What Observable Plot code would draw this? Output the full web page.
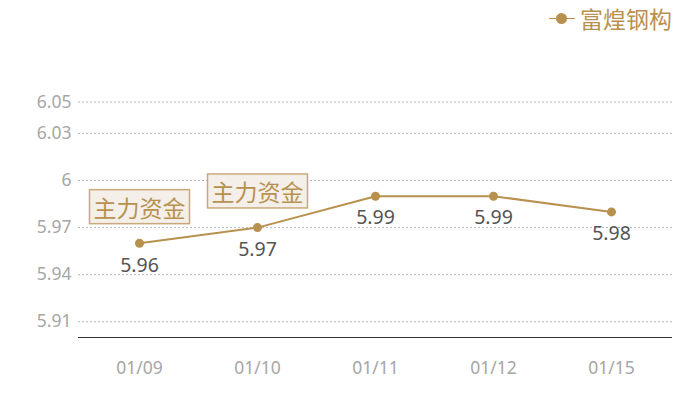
<!DOCTYPE html>
<html>
<head>
<meta charset="utf-8">
<script src="https://cdn.jsdelivr.net/npm/d3@7"></script>
<script src="https://cdn.jsdelivr.net/npm/@observablehq/plot@0.6"></script>
<style>
  html, body { margin: 0; padding: 0; background: #fff; }
  #wrap { position: relative; width: 700px; height: 400px; font-family: "Noto Sans CJK SC", "Noto Sans", sans-serif; }
  #legend { position: absolute; left: 549px; top: 4px; display: flex; align-items: center; height: 28px; }
  #legend .sym { position: relative; width: 26px; height: 28px; margin-right: 5px; }
  #legend .sym .ln { position: absolute; left: 0; top: 13.5px; width: 26px; height: 1.5px; background: #b8914f; }
  #legend .sym .dt { position: absolute; left: 7px; top: 8.5px; width: 11px; height: 11px; border-radius: 50%; background: #b8914f; }
  #legend .txt { font-size: 23px; color: #b8914f; line-height: 28px; }
</style>
</head>
<body>
<div id="wrap"></div>
<script>
const dates = ["01/09", "01/10", "01/11", "01/12", "01/15"];
const prices = [5.96, 5.97, 5.99, 5.99, 5.98];
const yTicks = [5.91, 5.94, 5.97, 6, 6.03, 6.05];
const annotationDates = ["01/09", "01/10"];
const annotationLabel = "主力资金";
const seriesName = "富煌钢构";

const gold = "#b8914f";
const numFont = '"Noto Sans", "Open Sans", sans-serif';
const data = dates.map((d, i) => ({date: d, price: prices[i]}));
const ann = data.filter(d => annotationDates.includes(d.date));

const chart = Plot.plot({
  width: 700,
  height: 400,
  marginLeft: 78,
  marginRight: 28,
  marginTop: 23,
  marginBottom: 63,
  style: {fontFamily: '"Noto Sans CJK SC", "Noto Sans", sans-serif', background: "#fff"},
  x: {type: "band", domain: dates, padding: 0, label: null},
  y: {domain: [5.9, 6.1], label: null},
  marks: [
    Plot.ruleY(yTicks, {stroke: "#b5b5b5", strokeDasharray: "2,2", strokeWidth: 1}),
    Plot.axisY(yTicks, {tickSize: 0, tickPadding: 7, fontSize: 17.5, fontFamily: numFont, color: "#a6a6a6", tickFormat: d => String(d), label: null}),
    Plot.axisX({tickSize: 0, tickPadding: 24, fontSize: 17.5, fontFamily: numFont, color: "#a6a6a6", label: null}),
    Plot.ruleY([5.9], {stroke: "#333", strokeWidth: 1.2}),
    Plot.line(data, {x: "date", y: "price", stroke: gold, strokeWidth: 2}),
    Plot.dot(data, {x: "date", y: "price", fill: gold, r: 4.5}),
    Plot.text(data, {x: "date", y: "price", text: d => String(d.price), dy: 22, fontSize: 19.5, fontFamily: numFont, fill: "#555"}),
    Plot.text(ann, {x: "date", y: "price", text: () => annotationLabel, dy: -34, fontSize: 23, fill: gold})
  ]
});

const wrap = document.getElementById("wrap");
wrap.appendChild(chart);

// boxes behind annotation texts
Array.from(chart.querySelectorAll("text"))
  .filter(t => t.textContent === annotationLabel)
  .forEach(t => {
    const b = t.getBBox();
    const r = document.createElementNS("http://www.w3.org/2000/svg", "rect");
    const cy = b.y + b.height / 2;
    r.setAttribute("x", b.x - 4);
    r.setAttribute("y", cy - 17);
    r.setAttribute("width", b.width + 8);
    r.setAttribute("height", 34);
    r.setAttribute("fill", "#f4efe9");
    r.setAttribute("stroke", "#c9a97c");
    r.setAttribute("stroke-width", 1.5);
    if (t.getAttribute("transform")) r.setAttribute("transform", t.getAttribute("transform"));
    t.parentNode.insertBefore(r, t);
  });

const legend = document.createElement("div");
legend.id = "legend";
legend.innerHTML = '<div class="sym"><div class="ln"></div><div class="dt"></div></div><div class="txt"></div>';
legend.querySelector(".txt").textContent = seriesName;
wrap.appendChild(legend);
</script>
</body>
</html>
